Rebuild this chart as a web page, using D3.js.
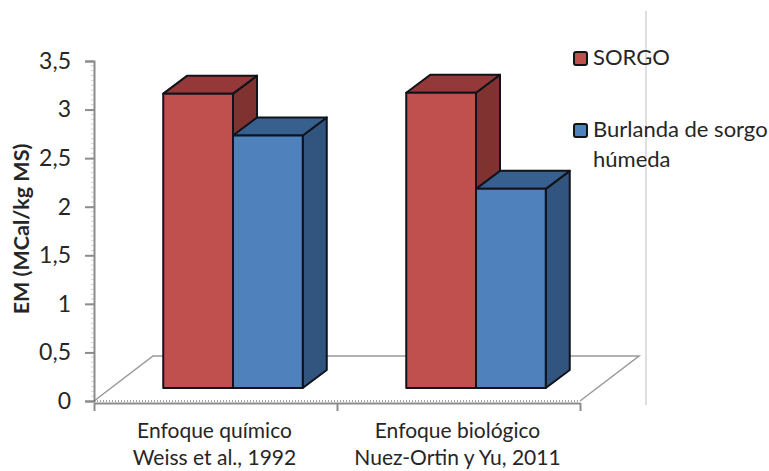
<!DOCTYPE html>
<html>
<head>
<meta charset="utf-8">
<script src="https://cdn.jsdelivr.net/npm/d3@7"></script>
<style>
    html, body { margin: 0; padding: 0; background: #fff; }
    svg { display: block; }
    text { font-family: Lato, "Open Sans", sans-serif; fill: #262626; }
    .axis path, .axis line { stroke: #8c8c8c; stroke-width: 2; }
    .minor line { stroke: #b5b5b5; stroke-width: 1; }
</style>
</head>
<body>
<div id="chart"></div>
<script>
const categories = ['Enfoque químico', 'Enfoque biológico'];
const sources = ['Weiss et al., 1992', 'Nuez-Ortin y Yu, 2011'];
const seriesNames = ['SORGO', 'Burlanda de sorgo'];
const sorgo = [3.03, 3.04];
const burlanda = [2.6, 2.05];
const yTicks = [0, 0.5, 1, 1.5, 2, 2.5, 3, 3.5];

const colors = [
    { front: '#c0504d', top: '#94383a', side: '#7f3230' },
    { front: '#4f81bd', top: '#38608f', side: '#31557f' }
];

const width = 769, height = 471;

const svg = d3.select('#chart').append('svg')
    .attr('width', width)
    .attr('height', height);

const y = d3.scaleLinear().domain([0, 3.5]).range([401, 61]);
const x = d3.scaleBand().domain(categories).range([94, 580]);
const xEdges = d3.scaleLinear().domain([0, 2]).range([94, 580]);
const inner = d3.scaleBand().domain(d3.range(2)).range([0, 139.5]);

// the bars sit in the middle of the floor depth
const shiftX = 17.5, shiftY = -13;
const depthX = 24, depthY = -18;
const floorX = 59, floorY = -45;

// gray rule on the right
svg.append('line')
    .attr('x1', 646).attr('x2', 646)
    .attr('y1', 11).attr('y2', 405)
    .attr('stroke', '#d4d4d4').attr('stroke-width', 1.5);

// floor
const x0 = xEdges(0), x1 = xEdges(2), yf = y(0);
svg.append('path')
    .attr('d', `M${x0},${yf}L${x0 + floorX},${yf + floorY}L${x1 + floorX},${yf + floorY}L${x1},${yf}`)
    .attr('fill', '#fff')
    .attr('stroke', '#999')
    .attr('stroke-width', 1.5);

// minor marks on the y axis
svg.append('g')
    .attr('class', 'minor')
    .selectAll('line')
    .data(d3.range(0, 70).map(i => i * 0.05))
    .enter().append('line')
    .attr('x1', 91).attr('x2', 94)
    .attr('y1', d => y(d)).attr('y2', d => y(d))
    .attr('stroke-opacity', 0.6);

const yAxis = d3.axisLeft(y)
    .tickValues(yTicks)
    .tickSize(9)
    .tickPadding(14)
    .tickFormat(d => String(d).replace('.', ','));

const gy = svg.append('g')
    .attr('class', 'axis')
    .attr('transform', 'translate(94,0)')
    .call(yAxis);
gy.selectAll('text').style('font-size', '23px');

const xAxis = d3.axisBottom(xEdges)
    .tickValues([0, 1, 2])
    .tickSize(8)
    .tickSizeOuter(0)
    .tickFormat('');

svg.append('g')
    .attr('class', 'axis')
    .attr('transform', `translate(0,${yf + 2})`)
    .call(xAxis);

// dotted edge above the x axis
svg.append('line')
    .attr('x1', x0).attr('x2', x1)
    .attr('y1', yf).attr('y2', yf)
    .attr('stroke', '#444')
    .attr('stroke-width', 1)
    .attr('stroke-dasharray', '1 2');

// bars
const bars = [];
categories.forEach((c, i) => {
    bars.push({ cat: c, s: 0, value: sorgo[i] });
    bars.push({ cat: c, s: 1, value: burlanda[i] });
});

const bar = svg.append('g')
    .selectAll('g')
    .data(bars)
    .enter().append('g')
    .attr('stroke', '#10131a')
    .attr('stroke-width', 2)
    .attr('stroke-linejoin', 'round');

const left = d => x(d.cat) + (x.bandwidth() - 139.5) / 2 + inner(d.s) + shiftX;
const right = d => left(d) + inner.bandwidth();
const topY = d => y(d.value) + shiftY;
const base = y(0) + shiftY;

bar.append('path')
    .attr('fill', d => colors[d.s].side)
    .attr('d', d => `M${right(d)},${topY(d)}L${right(d) + depthX},${topY(d) + depthY}L${right(d) + depthX},${base + depthY}L${right(d)},${base}Z`);

bar.append('path')
    .attr('fill', d => colors[d.s].top)
    .attr('d', d => `M${left(d)},${topY(d)}L${left(d) + depthX},${topY(d) + depthY}L${right(d) + depthX},${topY(d) + depthY}L${right(d)},${topY(d)}Z`);

bar.append('rect')
    .attr('fill', d => colors[d.s].front)
    .attr('x', left)
    .attr('y', topY)
    .attr('width', inner.bandwidth())
    .attr('height', d => base - topY(d));

// category labels
const labels = svg.append('g')
    .selectAll('text')
    .data(categories)
    .enter().append('text')
    .attr('text-anchor', 'middle')
    .style('font-size', '21px');

labels.append('tspan')
    .attr('x', d => x(d) + x.bandwidth() / 2 - 1)
    .attr('y', 438)
    .text(d => d);

labels.append('tspan')
    .attr('x', d => x(d) + x.bandwidth() / 2 - 1)
    .attr('y', 465)
    .text((d, i) => sources[i]);

// axis title
svg.append('text')
    .attr('transform', 'translate(29,229) rotate(-90)')
    .attr('text-anchor', 'middle')
    .style('font-size', '21.5px')
    .style('font-weight', 'bold')
    .text('EM (MCal/kg MS)');

// legend
const legend = svg.append('g')
    .selectAll('g')
    .data(seriesNames)
    .enter().append('g')
    .attr('transform', (d, i) => `translate(574,${i === 0 ? 52 : 124})`);

legend.append('rect')
    .attr('width', 13).attr('height', 13)
    .attr('rx', 2)
    .attr('fill', (d, i) => colors[i].front)
    .attr('stroke', '#10131a')
    .attr('stroke-width', 2);

legend.append('text')
    .attr('x', 19).attr('y', 13)
    .style('font-size', '22px')
    .text(d => d);

svg.append('text')
    .attr('x', 593).attr('y', 167)
    .style('font-size', '22px')
    .text('húmeda');
</script>
</body>
</html>
